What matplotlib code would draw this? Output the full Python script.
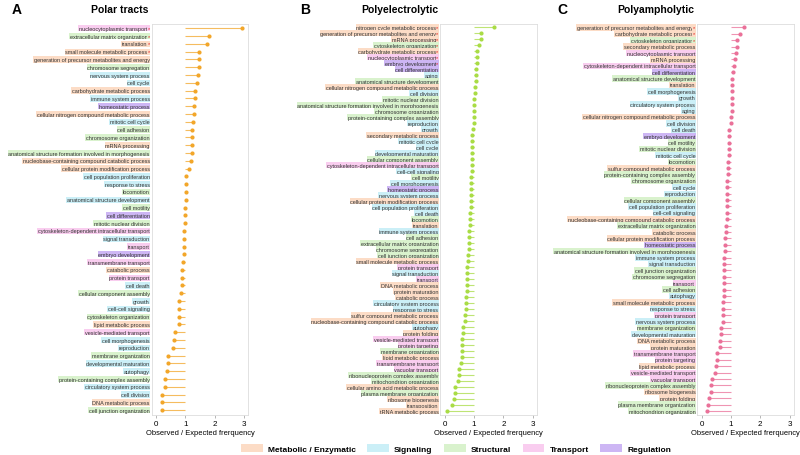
import matplotlib
matplotlib.use("Agg")
import matplotlib.pyplot as plt
import matplotlib.transforms as mtransforms
from matplotlib.patches import Patch
import numpy as np

plt.rcParams['font.family'] = ['Liberation Sans', 'DejaVu Sans']

# group codes: M metabolic, G signaling, S structural, T transport, R regulation
a_labels = ["nucleocytoplasmic transport*", "extracellular matrix organization*", "translation*",
            "small molecule metabolic process*", "generation of precursor metabolites and energy",
            "chromosome segregation", "nervous system process", "cell cycle",
            "carbohydrate metabolic process", "immune system process", "homeostatic process",
            "cellular nitrogen compound metabolic process", "mitotic cell cycle", "cell adhesion",
            "chromosome organization", "mRNA processing",
            "anatomical structure formation involved in morphogenesis",
            "nucleobase-containing compound catabolic process", "cellular protein modification process",
            "cell population proliferation", "response to stress", "locomotion",
            "anatomical structure development", "cell motility", "cell differentiation",
            "mitotic nuclear division", "cytoskeleton-dependent intracellular transport",
            "signal transduction", "transport", "embryo development", "transmembrane transport",
            "catabolic process", "protein transport", "cell death", "cellular component assembly",
            "growth", "cell-cell signaling", "cytoskeleton organization", "lipid metabolic process",
            "vesicle-mediated transport", "cell morphogenesis", "reproduction", "membrane organization",
            "developmental maturation", "autophagy", "protein-containing complex assembly",
            "circulatory system process", "cell division", "DNA metabolic process",
            "cell junction organization"]
a_groups = ["T", "S", "M", "M", "M", "S", "G", "G", "M", "G", "R", "M", "G", "S", "S", "M", "S", "M",
            "M", "G", "G", "S", "G", "S", "R", "S", "T", "G", "T", "R", "T", "M", "T", "G", "S", "G",
            "G", "S", "M", "T", "G", "G", "S", "G", "G", "S", "G", "G", "M", "S"]
a_values = [2.93, 1.81, 1.74, 1.48, 1.47, 1.47, 1.42, 1.41, 1.34, 1.32, 1.30, 1.28, 1.25, 1.24,
            1.23, 1.22, 1.22, 1.21, 1.12, 1.02, 1.02, 1.01, 1.01, 0.99, 0.99, 0.98, 0.97, 0.95,
            0.95, 0.94, 0.92, 0.89, 0.88, 0.87, 0.85, 0.79, 0.79, 0.78, 0.78, 0.65, 0.61, 0.57,
            0.41, 0.40, 0.39, 0.31, 0.29, 0.22, 0.21, 0.21]

b_labels = ["nitrogen cycle metabolic process*", "generation of precursor metabolites and energy*",
            "mRNA processing*", "cytoskeleton organization*", "carbohydrate metabolic process*",
            "nucleocytoplasmic transport*", "embryo development*", "cell differentiation", "aging",
            "anatomical structure development", "cellular nitrogen compound metabolic process",
            "cell division", "mitotic nuclear division",
            "anatomical structure formation involved in morphogenesis", "chromosome organization",
            "protein-containing complex assembly", "reproduction", "growth",
            "secondary metabolic process", "mitotic cell cycle", "cell cycle",
            "developmental maturation", "cellular component assembly",
            "cytoskeleton-dependent intracellular transport", "cell-cell signaling", "cell motility",
            "cell morphogenesis", "homeostatic process", "nervous system process",
            "cellular protein modification process", "cell population proliferation", "cell death",
            "locomotion", "translation", "immune system process", "cell adhesion",
            "extracellular matrix organization", "chromosome segregation", "cell junction organization",
            "small molecule metabolic process", "protein transport", "signal transduction", "transport",
            "DNA metabolic process", "protein maturation", "catabolic process",
            "circulatory system process", "response to stress", "sulfur compound metabolic process",
            "nucleobase-containing compound catabolic process", "autophagy", "protein folding",
            "vesicle-mediated transport", "protein targeting", "membrane organization",
            "lipid metabolic process", "transmembrane transport", "vacuolar transport",
            "ribonucleoprotein complex assembly", "mitochondrion organization",
            "cellular amino acid metabolic process", "plasma membrane organization",
            "ribosome biogenesis", "transposition", "tRNA metabolic process"]
b_groups = ["M", "M", "M", "S", "M", "T", "R", "R", "G", "S", "M", "G", "S", "S", "S", "S", "G", "G",
            "M", "G", "G", "G", "S", "T", "G", "S", "G", "R", "G", "M", "G", "G", "S", "M", "G", "S",
            "S", "S", "S", "M", "T", "G", "T", "M", "M", "M", "G", "G", "M", "M", "G", "M", "T", "T",
            "S", "M", "T", "T", "S", "S", "M", "S", "M", "M", "M"]
b_values = [1.68, 1.24, 1.23, 1.17, 1.10, 1.09, 1.09, 1.07, 1.06, 1.05, 1.03, 1.02, 1.01, 1.01,
            1.00, 0.99, 0.99, 0.95, 0.94, 0.94, 0.93, 0.93, 0.93, 0.92, 0.92, 0.91, 0.90, 0.90,
            0.89, 0.89, 0.88, 0.87, 0.87, 0.86, 0.84, 0.84, 0.83, 0.83, 0.78, 0.78, 0.77, 0.77,
            0.76, 0.75, 0.74, 0.72, 0.72, 0.71, 0.70, 0.69, 0.62, 0.62, 0.60, 0.59, 0.58, 0.57,
            0.55, 0.48, 0.47, 0.44, 0.35, 0.34, 0.33, 0.26, 0.07]

c_labels = ["generation of precursor metabolites and energy*", "carbohydrate metabolic process*",
            "cytoskeleton organization*", "secondary metabolic process", "nucleocytoplasmic transport",
            "mRNA processing", "cytoskeleton-dependent intracellular transport", "cell differentiation",
            "anatomical structure development", "translation", "cell morphogenesis", "growth",
            "circulatory system process", "aging", "cellular nitrogen compound metabolic process",
            "cell division", "cell death", "embryo development", "cell motility",
            "mitotic nuclear division", "mitotic cell cycle", "locomotion",
            "sulfur compound metabolic process", "protein-containing complex assembly",
            "chromosome organization", "cell cycle", "reproduction", "cellular component assembly",
            "cell population proliferation", "cell-cell signaling",
            "nucleobase-containing compound catabolic process", "extracellular matrix organization",
            "catabolic process", "cellular protein modification process", "homeostatic process",
            "anatomical structure formation involved in morphogenesis", "immune system process",
            "signal transduction", "cell junction organization", "chromosome segregation", "transport",
            "cell adhesion", "autophagy", "small molecule metabolic process", "response to stress",
            "protein transport", "nervous system process", "membrane organization",
            "developmental maturation", "DNA metabolic process", "protein maturation",
            "transmembrane transport", "protein targeting", "lipid metabolic process",
            "vesicle-mediated transport", "vacuolar transport", "ribonucleoprotein complex assembly",
            "ribosome biogenesis", "protein folding", "plasma membrane organization",
            "mitochondrion organization"]
c_groups = ["M", "M", "S", "M", "T", "M", "T", "R", "S", "M", "G", "G", "G", "G", "M", "G", "G", "R",
            "S", "S", "G", "S", "M", "S", "S", "G", "G", "S", "G", "G", "M", "S", "M", "M", "R", "S",
            "G", "G", "S", "S", "T", "S", "G", "M", "G", "T", "G", "S", "G", "M", "M", "T", "T", "M",
            "T", "T", "S", "M", "M", "S", "S"]
c_values = [1.45, 1.32, 1.22, 1.19, 1.18, 1.15, 1.10, 1.06, 1.05, 1.04, 1.03, 1.03, 1.02, 1.02,
            1.01, 1.00, 0.94, 0.94, 0.93, 0.92, 0.92, 0.91, 0.90, 0.90, 0.88, 0.88, 0.87, 0.87,
            0.86, 0.86, 0.85, 0.84, 0.83, 0.80, 0.80, 0.79, 0.78, 0.78, 0.77, 0.77, 0.77, 0.76,
            0.76, 0.74, 0.74, 0.74, 0.72, 0.67, 0.66, 0.63, 0.62, 0.52, 0.51, 0.50, 0.46, 0.34,
            0.33, 0.31, 0.24, 0.22, 0.19]

group_names = ["Metabolic / Enzymatic", "Signaling", "Structural", "Transport", "Regulation"]
group_codes = ["M", "G", "S", "T", "R"]
group_colors = {"M": "#fcdcc6", "G": "#cbeff7", "S": "#d9f2cd", "T": "#f9cdef", "R": "#cdb6f4"}

panels = [("A", "Polar tracts", a_labels, a_groups, a_values, "#f2a62a", 0.1895, 0.15),
          ("B", "Polyelectrolytic", b_labels, b_groups, b_values, "#a9dc45", 0.5505, 0.50),
          ("C", "Polyampholytic", c_labels, c_groups, c_values, "#ea7199", 0.8715, 0.82)]

LABEL_FS = 4.0

fig = plt.figure(figsize=(8, 4.56), dpi=100)
renderer = fig.canvas.get_renderer()

# width of the red asterisk, so the label can sit just left of it
tmp = fig.text(0, 0, "*", fontsize=LABEL_FS)
star_w = tmp.get_window_extent(renderer).width * 72.0 / fig.dpi
tmp.remove()

for letter, title, labels, groups, values, col, left, title_x in panels:
    ax = fig.add_axes([left, 0.088, 0.121, 0.858])
    n = len(labels)
    y = np.arange(n)
    ax.hlines(y, 1, values, color=col, lw=0.8, alpha=0.75, zorder=2)
    ax.scatter(values, y, s=9, color=col, zorder=3, linewidths=0)
    ax.set_xlim(-0.15, 3.15)
    ax.set_ylim(n - 0.4, -0.6)
    ax.set_xticks([0, 1, 2, 3])
    ax.set_yticks([])
    ax.tick_params(axis='x', labelsize=5.8, length=2, width=0.5, color='#999999', pad=1.5)
    for s in ax.spines.values():
        s.set_color('#dddddd')
        s.set_linewidth(0.6)
    ax.set_xlabel("Observed / Expected frerquency", fontsize=5.4, labelpad=1.5)

    trans = mtransforms.blended_transform_factory(ax.transAxes, ax.transData)
    shifted = mtransforms.offset_copy(trans, fig=fig, x=-star_w, units='points')
    for i, (lab, g) in enumerate(zip(labels, groups)):
        box = dict(facecolor=group_colors[g], edgecolor='none', pad=0.5)
        if lab.endswith("*"):
            ax.text(-0.02, i, lab[:-1], transform=shifted, ha='right', va='center',
                    fontsize=LABEL_FS, color='#333333', bbox=box)
            ax.text(-0.02, i, "*", transform=trans, ha='right', va='center', fontsize=LABEL_FS,
                    color='#e02020', bbox=box)
        else:
            ax.text(-0.02, i, lab, transform=trans, ha='right', va='center', fontsize=LABEL_FS,
                    color='#333333', bbox=box)

    fig.text(left - 0.175, 0.978, letter, fontsize=10, fontweight='bold', va='center')
    fig.text(title_x, 0.978, title, fontsize=7.5, fontweight='bold', va='center', ha='center')

handles = [Patch(facecolor=group_colors[c], edgecolor='none', label=nm)
           for c, nm in zip(group_codes, group_names)]
leg = fig.legend(handles=handles, loc='lower center', ncol=5, frameon=False,
                 bbox_to_anchor=(0.57, -0.012), fontsize=6, handlelength=2.6, handleheight=1.0,
                 columnspacing=1.4, handletextpad=0.6)
for t in leg.get_texts():
    t.set_fontweight('bold')

fig.savefig("out.png", dpi=100)
